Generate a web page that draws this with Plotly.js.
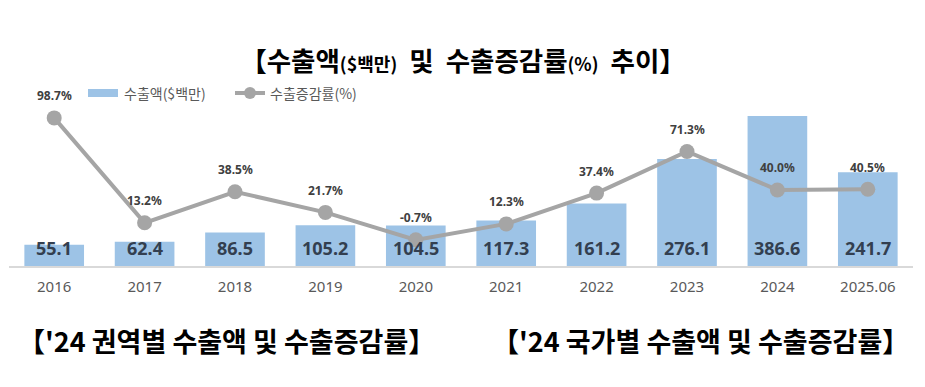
<!DOCTYPE html>
<html>
<head>
<meta charset="utf-8">
<script src="https://cdn.plot.ly/plotly-3.0.1.min.js"></script>
<style>html,body{margin:0;padding:0;background:#fff;}#chart{width:925px;height:387px;}</style>
</head>
<body>
<div id="chart"></div>
<script>
const categories = ['2016','2017','2018','2019','2020','2021','2022','2023','2024','2025.06'];
const exportValues = [55.1, 62.4, 86.5, 105.2, 104.5, 117.3, 161.2, 276.1, 386.6, 241.7];
const growthRates = [98.7, 13.2, 38.5, 21.7, -0.7, 12.3, 37.4, 71.3, 40.0, 40.5];
const seriesNames = ['수출액($백만)', '수출증감률(%)'];
const chartTitle = '【수출액<span style="font-size:18px">($백만)</span>&nbsp; 및&nbsp; 수출증감률<span style="font-size:18px">(%)</span>&nbsp; 추이】';
const bottomTitles = ["【'24 권역별 수출액 및 수출증감률】", "【'24 국가별 수출액 및 수출증감률】"];

const W = 925, H = 387;
const M = {l: 9, r: 12, t: 100, b: 121};
const PW = W - M.l - M.r, PH = H - M.t - M.b;
const px = x => (x - M.l) / PW;
const py = y => (H - M.b - y) / PH;

const barColor = '#9dc3e6';
const lineColor = '#a5a5a5';
const KR = '"Noto Sans CJK KR", "Noto Sans", sans-serif';

const traces = [
  {
    type: 'bar', x: categories, y: exportValues, name: seriesNames[0],
    marker: {color: barColor}, hoverinfo: 'skip', showlegend: false
  },
  {
    type: 'scatter', mode: 'lines+markers', x: categories, y: growthRates, yaxis: 'y2',
    name: seriesNames[1], line: {color: lineColor, width: 4},
    marker: {color: lineColor, size: 15}, hoverinfo: 'skip', showlegend: false
  }
];

const annotations = [];
categories.forEach((c, i) => {
  // category index i on the category axis corresponds to categories[i]
  annotations.push({
    x: i, y: 0, xref: 'x', yref: 'y', text: exportValues[i].toFixed(1),
    showarrow: false, yanchor: 'middle', yshift: 18,
    font: {family: '"Noto Sans", sans-serif', size: 18, color: '#333f50', weight: 700}
  });
  annotations.push({
    x: i, y: growthRates[i], xref: 'x', yref: 'y2', text: growthRates[i].toFixed(1) + '%',
    showarrow: false, yanchor: 'middle', yshift: 22,
    font: {family: '"Noto Sans", sans-serif', size: 12, color: '#404040', weight: 700}
  });
});
// legend texts
annotations.push({x: px(122), y: py(93), xref: 'paper', yref: 'paper', xanchor: 'left', yanchor: 'middle',
  text: seriesNames[0], showarrow: false, font: {family: KR, size: 14, color: '#595959'}});
annotations.push({x: px(268), y: py(93), xref: 'paper', yref: 'paper', xanchor: 'left', yanchor: 'middle',
  text: seriesNames[1], showarrow: false, font: {family: KR, size: 14, color: '#595959'}});
// bottom titles
annotations.push({x: px(226), y: py(340), xref: 'paper', yref: 'paper', xanchor: 'center', yanchor: 'middle',
  text: bottomTitles[0], showarrow: false, font: {family: KR, size: 27, color: '#000', weight: 700}});
annotations.push({x: px(700), y: py(340), xref: 'paper', yref: 'paper', xanchor: 'center', yanchor: 'middle',
  text: bottomTitles[1], showarrow: false, font: {family: KR, size: 27, color: '#000', weight: 700}});

const shapes = [
  {type: 'rect', xref: 'paper', yref: 'paper', x0: px(88), x1: px(118), y0: py(97), y1: py(89),
   fillcolor: barColor, line: {width: 0}},
  {type: 'line', xref: 'paper', yref: 'paper', x0: px(235), x1: px(265), y0: py(93), y1: py(93),
   line: {color: lineColor, width: 4}},
  {type: 'circle', xref: 'paper', yref: 'paper', xsizemode: 'pixel', ysizemode: 'pixel',
   xanchor: px(250), yanchor: py(93), x0: -6, x1: 6, y0: -6, y1: 6,
   fillcolor: lineColor, line: {width: 0}}
];

const hiddenAxis = {showgrid: false, zeroline: false, showline: false, showticklabels: false, ticks: ''};

const layout = {
  width: W, height: H,
  margin: M,
  paper_bgcolor: '#fff', plot_bgcolor: '#fff',
  title: {text: chartTitle, x: 463 / W, xref: 'container', xanchor: 'center',
    y: 1 - 62 / H, yref: 'container', yanchor: 'middle',
    font: {family: KR, size: 26.5, color: '#000', weight: 700}},
  showlegend: false,
  bargap: 0.34,
  xaxis: {type: 'category', range: [-0.5, 9.5], showline: true, linecolor: '#d9d9d9', linewidth: 1.5,
    ticks: '', showgrid: false, zeroline: false, ticklabelstandoff: 6,
    tickfont: {family: '"Noto Sans", sans-serif', size: 15, color: '#595959'}},
  yaxis: Object.assign({range: [0, 428]}, hiddenAxis),
  yaxis2: Object.assign({range: [-22, 113.3], overlaying: 'y'}, hiddenAxis),
  annotations: annotations,
  shapes: shapes
};

Plotly.newPlot('chart', traces, layout, {displayModeBar: false, staticPlot: true});
</script>
</body>
</html>
